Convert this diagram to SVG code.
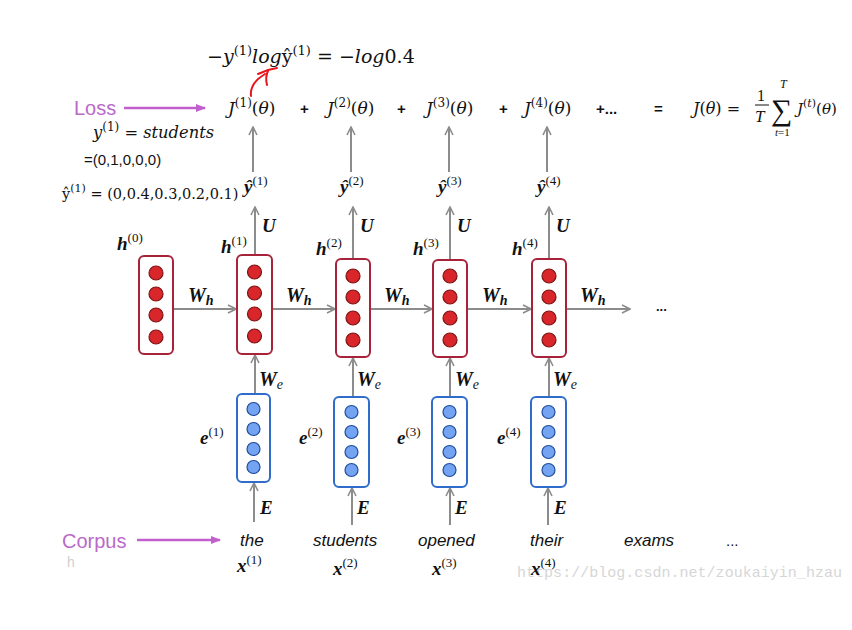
<svg xmlns="http://www.w3.org/2000/svg" width="852" height="630" viewBox="0 0 852 630">
<defs>
<marker id="ga" viewBox="0 0 10 10" refX="9" refY="5" markerWidth="10" markerHeight="10" markerUnits="userSpaceOnUse" orient="auto">
<path d="M1,1 L9,5 L1,9" fill="none" stroke="#8c8c8c" stroke-width="1.6"/>
</marker>
<marker id="pa" viewBox="0 0 10 10" refX="9" refY="5" markerWidth="12" markerHeight="10" markerUnits="userSpaceOnUse" orient="auto">
<path d="M0,1 L10,5 L0,9 Z" fill="#c160cc"/>
</marker>
</defs>
<style>
.ser{font-family:"Liberation Serif","DejaVu Serif",serif;fill:#111}
.dj{font-family:"DejaVu Serif","Liberation Serif",serif;fill:#111}
.bi{font-family:"Liberation Serif","DejaVu Serif",serif;font-weight:bold;font-style:italic;fill:#111}
.it{font-style:italic}
.sup{font-style:normal;font-weight:normal}
.sans{font-family:"Liberation Sans","DejaVu Sans",sans-serif;fill:#111}
.pur{font-family:"Liberation Sans","DejaVu Sans",sans-serif;fill:#b96ac9;font-size:20px}
.hbox{fill:#fff;stroke:#a8233a;stroke-width:2}
.ebox{fill:#fff;stroke:#2f6ccb;stroke-width:2}
.hc{fill:#d9262b;stroke:#7d1515;stroke-width:1.2}
.ec{fill:#74a3f2;stroke:#1f4c9e;stroke-width:1.2}
.ar{stroke:#8c8c8c;stroke-width:2;fill:none;marker-end:url(#ga)}
.pa{stroke:#c160cc;stroke-width:2.5;fill:none;marker-end:url(#pa)}
</style>
<rect width="852" height="630" fill="#fff"/>

<!-- top annotation -->
<text class="dj" x="207" y="63" font-size="19"><tspan>−</tspan><tspan class="it">y</tspan><tspan font-size="13" dy="-8">(1)</tspan><tspan class="it" dy="8">log</tspan><tspan>ŷ</tspan><tspan font-size="13" dy="-8">(1)</tspan><tspan dy="8"> = −</tspan><tspan class="it">log</tspan><tspan>0.4</tspan></text>
<g id="red-arrow" fill="none" stroke="#e8141b" stroke-width="2" stroke-linecap="round">
<path d="M251,96 C250,88 255,80 265,74"/>
<path d="M258,74 L268,70 L277,68"/>
<path d="M268,71 C265,77 266,81 267,85"/>
</g>

<!-- connectors -->
<g id="connectors">
<line class="pa" x1="124" y1="108" x2="205" y2="108"/>
<line class="pa" x1="137" y1="540" x2="220" y2="540"/>
<line class="ar" x1="173" y1="309" x2="236" y2="309"/>
<line class="ar" x1="272" y1="309" x2="335" y2="309"/>
<line class="ar" x1="370" y1="309" x2="432" y2="309"/>
<line class="ar" x1="467" y1="309" x2="531" y2="309"/>
<line class="ar" x1="566" y1="309" x2="630" y2="309"/>
<line class="ar" x1="255" y1="394" x2="255" y2="355"/>
<line class="ar" x1="353" y1="397" x2="353" y2="358"/>
<line class="ar" x1="450" y1="397" x2="450" y2="358"/>
<line class="ar" x1="549" y1="397" x2="549" y2="358"/>
<line class="ar" x1="255" y1="255" x2="255" y2="207"/>
<line class="ar" x1="353" y1="259" x2="353" y2="207"/>
<line class="ar" x1="450" y1="260" x2="450" y2="207"/>
<line class="ar" x1="549" y1="259" x2="549" y2="207"/>
<line class="ar" x1="253" y1="172" x2="253" y2="127"/>
<line class="ar" x1="351" y1="172" x2="351" y2="127"/>
<line class="ar" x1="449" y1="172" x2="449" y2="127"/>
<line class="ar" x1="547" y1="172" x2="547" y2="127"/>
<line class="ar" x1="254" y1="522" x2="254" y2="483"/>
<line class="ar" x1="352" y1="525" x2="352" y2="488"/>
<line class="ar" x1="450" y1="525" x2="450" y2="488"/>
<line class="ar" x1="548" y1="525" x2="548" y2="488"/>
</g>

<!-- hidden state nodes -->
<g id="h0"><rect class="hbox" x="139" y="256" width="34" height="98" rx="5"/>
<circle class="hc" cx="156" cy="273" r="7"/><circle class="hc" cx="156" cy="294" r="7"/><circle class="hc" cx="156" cy="315" r="7"/><circle class="hc" cx="156" cy="337" r="7"/></g>
<g id="h1"><rect class="hbox" x="237" y="255" width="35" height="99" rx="5"/>
<circle class="hc" cx="254.5" cy="272" r="7"/><circle class="hc" cx="254.5" cy="293" r="7"/><circle class="hc" cx="254.5" cy="314" r="7"/><circle class="hc" cx="254.5" cy="336" r="7"/></g>
<g id="h2"><rect class="hbox" x="336" y="259" width="34" height="98" rx="5"/>
<circle class="hc" cx="353" cy="276" r="7"/><circle class="hc" cx="353" cy="297" r="7"/><circle class="hc" cx="353" cy="318" r="7"/><circle class="hc" cx="353" cy="340" r="7"/></g>
<g id="h3"><rect class="hbox" x="433" y="260" width="34" height="97" rx="5"/>
<circle class="hc" cx="450" cy="276" r="7"/><circle class="hc" cx="450" cy="297" r="7"/><circle class="hc" cx="450" cy="318" r="7"/><circle class="hc" cx="450" cy="340" r="7"/></g>
<g id="h4"><rect class="hbox" x="532" y="259" width="34" height="98" rx="5"/>
<circle class="hc" cx="549" cy="276" r="7"/><circle class="hc" cx="549" cy="297" r="7"/><circle class="hc" cx="549" cy="318" r="7"/><circle class="hc" cx="549" cy="340" r="7"/></g>

<!-- embedding nodes -->
<g id="e1"><rect class="ebox" x="237" y="394" width="33" height="88" rx="5"/>
<circle class="ec" cx="253.5" cy="409" r="6.5"/><circle class="ec" cx="253.5" cy="429" r="6.5"/><circle class="ec" cx="253.5" cy="449" r="6.5"/><circle class="ec" cx="253.5" cy="467" r="6.5"/></g>
<g id="e2"><rect class="ebox" x="334" y="397" width="35" height="90" rx="5"/>
<circle class="ec" cx="351.5" cy="412" r="6.5"/><circle class="ec" cx="351.5" cy="432" r="6.5"/><circle class="ec" cx="351.5" cy="452" r="6.5"/><circle class="ec" cx="351.5" cy="470" r="6.5"/></g>
<g id="e3"><rect class="ebox" x="432" y="397" width="35" height="90" rx="5"/>
<circle class="ec" cx="449.5" cy="412" r="6.5"/><circle class="ec" cx="449.5" cy="432" r="6.5"/><circle class="ec" cx="449.5" cy="452" r="6.5"/><circle class="ec" cx="449.5" cy="470" r="6.5"/></g>
<g id="e4"><rect class="ebox" x="531" y="397" width="35" height="90" rx="5"/>
<circle class="ec" cx="548.5" cy="412" r="6.5"/><circle class="ec" cx="548.5" cy="432" r="6.5"/><circle class="ec" cx="548.5" cy="452" r="6.5"/><circle class="ec" cx="548.5" cy="470" r="6.5"/></g>

<!-- Loss row -->
<g id="loss-row">
<text class="pur" x="74" y="115">Loss</text>
<text class="dj" x="228" y="114" font-size="17"><tspan class="it">J</tspan><tspan font-size="12" dy="-7">(1)</tspan><tspan dy="7">(</tspan><tspan class="it">θ</tspan>)</text>
<text class="dj" x="327" y="114" font-size="17"><tspan class="it">J</tspan><tspan font-size="12" dy="-7">(2)</tspan><tspan dy="7">(</tspan><tspan class="it">θ</tspan>)</text>
<text class="dj" x="426" y="114" font-size="17"><tspan class="it">J</tspan><tspan font-size="12" dy="-7">(3)</tspan><tspan dy="7">(</tspan><tspan class="it">θ</tspan>)</text>
<text class="dj" x="524" y="114" font-size="17"><tspan class="it">J</tspan><tspan font-size="12" dy="-7">(4)</tspan><tspan dy="7">(</tspan><tspan class="it">θ</tspan>)</text>
<text class="sans" x="300" y="114" font-size="15" font-weight="bold">+</text>
<text class="sans" x="397" y="114" font-size="15" font-weight="bold">+</text>
<text class="sans" x="499" y="114" font-size="15" font-weight="bold">+</text>
<text class="sans" x="596" y="114" font-size="15" font-weight="bold">+...</text>
<text class="sans" x="654" y="114" font-size="15" font-weight="bold">=</text>
<g id="total-loss">
<text class="dj" x="693" y="114" font-size="16"><tspan class="it">J</tspan>(<tspan class="it">θ</tspan>) =</text>
<text class="ser" x="757" y="101" font-size="16">1</text>
<line x1="755" y1="105" x2="769" y2="105" stroke="#111" stroke-width="1"/>
<text class="ser it" x="755" y="122" font-size="17">T</text>
<text class="ser" x="771" y="120" font-size="30">∑</text>
<text class="ser it" x="780" y="88" font-size="12">T</text>
<text class="ser" x="775" y="136" font-size="11"><tspan class="it">t</tspan>=1</text>
<text class="dj" x="797" y="114" font-size="15"><tspan class="it">J</tspan><tspan font-size="11" dy="-7">(<tspan class="it">t</tspan>)</tspan><tspan dy="7">(</tspan><tspan class="it">θ</tspan>)</text>
</g>
</g>

<!-- left annotations -->
<text class="dj" x="93" y="138" font-size="16.3"><tspan class="it">y</tspan><tspan font-size="12" dy="-7">(1)</tspan><tspan dy="7"> = </tspan><tspan class="it">students</tspan></text>
<text class="sans" x="84" y="165" font-size="15">=(0,1,0,0,0)</text>
<text class="dj" x="62" y="199" font-size="14.5">ŷ<tspan font-size="11" dy="-7">(1)</tspan><tspan dy="7"> = (0,0.4,0.3,0.2,0.1)</tspan></text>

<!-- yhat labels -->
<text class="bi" x="244" y="193" font-size="19">ŷ<tspan class="sup" font-size="13" dy="-8">(1)</tspan></text>
<text class="bi" x="340" y="193" font-size="19">ŷ<tspan class="sup" font-size="13" dy="-8">(2)</tspan></text>
<text class="bi" x="438" y="193" font-size="19">ŷ<tspan class="sup" font-size="13" dy="-8">(3)</tspan></text>
<text class="bi" x="537" y="193" font-size="19">ŷ<tspan class="sup" font-size="13" dy="-8">(4)</tspan></text>

<!-- U labels -->
<text class="bi" x="262" y="232" font-size="19">U</text>
<text class="bi" x="360" y="232" font-size="19">U</text>
<text class="bi" x="457" y="232" font-size="19">U</text>
<text class="bi" x="556" y="232" font-size="19">U</text>

<!-- h labels -->
<text class="bi" x="117" y="250" font-size="19">h<tspan class="sup" font-size="13" dy="-8">(0)</tspan></text>
<text class="bi" x="221" y="253" font-size="19">h<tspan class="sup" font-size="13" dy="-8">(1)</tspan></text>
<text class="bi" x="316" y="255" font-size="19">h<tspan class="sup" font-size="13" dy="-8">(2)</tspan></text>
<text class="bi" x="413" y="255" font-size="19">h<tspan class="sup" font-size="13" dy="-8">(3)</tspan></text>
<text class="bi" x="512" y="255" font-size="19">h<tspan class="sup" font-size="13" dy="-8">(4)</tspan></text>

<!-- Wh labels -->
<text class="bi" x="188" y="302" font-size="20">W<tspan font-size="14" dy="3">h</tspan></text>
<text class="bi" x="286" y="302" font-size="20">W<tspan font-size="14" dy="3">h</tspan></text>
<text class="bi" x="384" y="302" font-size="20">W<tspan font-size="14" dy="3">h</tspan></text>
<text class="bi" x="482" y="302" font-size="20">W<tspan font-size="14" dy="3">h</tspan></text>
<text class="bi" x="580" y="302" font-size="20">W<tspan font-size="14" dy="3">h</tspan></text>
<text class="sans" x="656" y="311" font-size="13" font-weight="bold">...</text>

<!-- We labels -->
<text class="bi" x="259" y="386" font-size="20">W<tspan class="it" font-weight="normal" font-size="14" dy="3">e</tspan></text>
<text class="bi" x="357" y="386" font-size="20">W<tspan class="it" font-weight="normal" font-size="14" dy="3">e</tspan></text>
<text class="bi" x="455" y="386" font-size="20">W<tspan class="it" font-weight="normal" font-size="14" dy="3">e</tspan></text>
<text class="bi" x="553" y="386" font-size="20">W<tspan class="it" font-weight="normal" font-size="14" dy="3">e</tspan></text>

<!-- e labels -->
<text class="bi" x="200" y="444" font-size="19">e<tspan class="sup" font-size="13" dy="-8">(1)</tspan></text>
<text class="bi" x="299" y="444" font-size="19">e<tspan class="sup" font-size="13" dy="-8">(2)</tspan></text>
<text class="bi" x="397" y="444" font-size="19">e<tspan class="sup" font-size="13" dy="-8">(3)</tspan></text>
<text class="bi" x="497" y="444" font-size="19">e<tspan class="sup" font-size="13" dy="-8">(4)</tspan></text>

<!-- E labels -->
<text class="bi" x="260" y="514" font-size="19">E</text>
<text class="bi" x="357" y="514" font-size="19">E</text>
<text class="bi" x="455" y="514" font-size="19">E</text>
<text class="bi" x="554" y="514" font-size="19">E</text>

<!-- Corpus row -->
<text class="pur" x="62" y="548">Corpus</text>
<text class="sans it" x="240" y="546" font-size="17">the</text>
<text class="sans it" x="313" y="546" font-size="17">students</text>
<text class="sans it" x="418" y="546" font-size="17">opened</text>
<text class="sans it" x="530" y="546" font-size="17">their</text>
<text class="sans it" x="624" y="546" font-size="17">exams</text>
<text class="sans" x="726" y="546" font-size="15">...</text>

<text x="517" y="577" font-family="Liberation Mono, monospace" font-size="15" fill="#d6d6d6" textLength="325" lengthAdjust="spacing">https://blog.csdn.net/zoukaiyin_hzau</text>
<text x="67" y="567" font-family="Liberation Sans, sans-serif" font-size="14" fill="#d0d0d0">h</text>

<!-- x labels -->
<text class="bi" x="237" y="572" font-size="19">x<tspan class="sup" font-size="13" dy="-8">(1)</tspan></text>
<text class="bi" x="333" y="575" font-size="19">x<tspan class="sup" font-size="13" dy="-8">(2)</tspan></text>
<text class="bi" x="432" y="575" font-size="19">x<tspan class="sup" font-size="13" dy="-8">(3)</tspan></text>
<text class="bi" x="531" y="575" font-size="19">x<tspan class="sup" font-size="13" dy="-8">(4)</tspan></text>
</svg>
